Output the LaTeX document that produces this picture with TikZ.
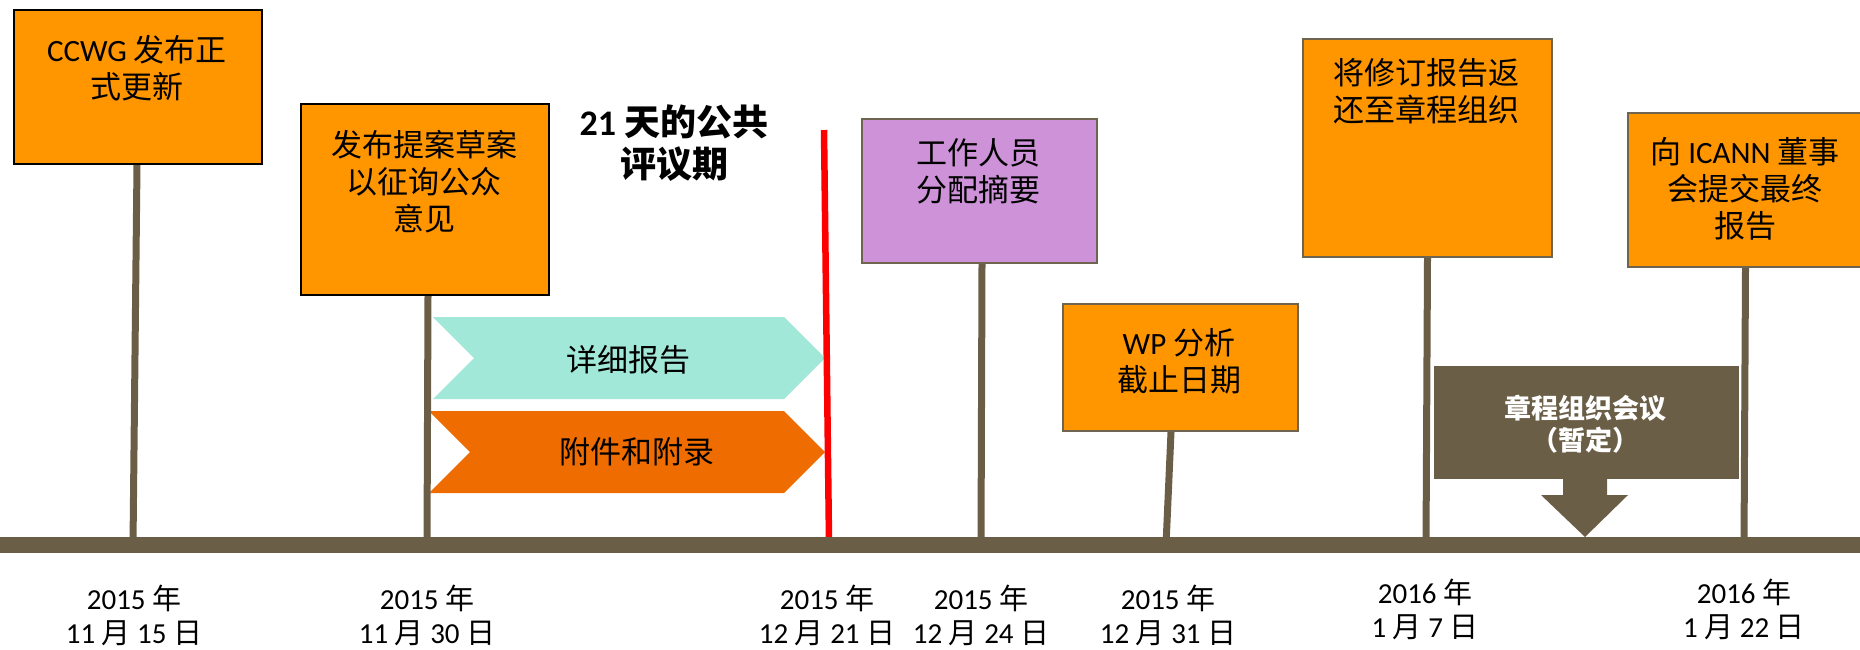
\documentclass[tikz,border=0pt]{standalone}
\usepackage{fontspec}
\setmainfont{Carlito}
\newfontfamily\cjk{Noto Sans CJK SC}
\newcommand\lat[1]{{\rmfamily #1}}
\definecolor{orng}{HTML}{FF9600}
\definecolor{purp}{HTML}{CE92D8}
\definecolor{chevteal}{HTML}{A2E8D8}
\definecolor{dorng}{HTML}{EE6C00}
\definecolor{brn}{HTML}{6B5E47}
\definecolor{edgegray}{HTML}{6E6450}
\begin{document}
\begin{tikzpicture}[x=1pt,y=-1pt,
  box/.style={minimum width=#1, inner sep=0, anchor=north west, line width=2pt},
  boxtext/.style={font=\cjk\fontsize{31}{37}\selectfont, align=center, anchor=north, inner sep=0},
  datetext/.style={font=\cjk\fontsize{29}{34}\selectfont, align=center, anchor=north, inner sep=0},
  chevtext/.style={font=\cjk\fontsize{31}{37}\selectfont, inner sep=0},
  stem/.style={draw=brn, line width=7pt},
]
\useasboundingbox (0,0) rectangle (1860,649);

% boxes
\node[box=248, minimum height=154, fill=orng, draw=black] (b1) at (13,9) {};
\node[box=248, minimum height=191, fill=orng, draw=black] (b2) at (300,103) {};
\node[box=235, minimum height=144, fill=purp, draw=edgegray] (b3) at (861,118) {};
\node[box=235, minimum height=127, fill=orng, draw=edgegray] (b4) at (1062,303) {};
\node[box=249, minimum height=218, fill=orng, draw=edgegray] (b5) at (1302,38) {};
\node[box=236, minimum height=154, fill=orng, draw=edgegray] (b6) at (1627,112) {};
\node[box=305, minimum height=113, fill=brn] (m) at (1433,365) {};

% box texts
\node[boxtext] (t1) at (137,35) {\lat{CCWG} 发布正\\式更新};
\node[boxtext] (t2) at (424,130) {发布提案草案\\以征询公众\\意见};
\node[boxtext] (t3) at (978,138) {工作人员\\分配摘要};
\node[boxtext] (t4) at (1179,328) {\lat{WP} 分析\\截止日期};
\node[boxtext] (t5) at (1426,58) {将修订报告返\\还至章程组织};
\node[boxtext] (t6) at (1745,137) {向 \lat{ICANN} 董事\\会提交最终\\报告};
\node[font=\cjk\bfseries\fontsize{27}{32}\selectfont, text=white, align=center, anchor=north, inner sep=0] (mt) at (1585,395) {章程组织会议\\（暂定）};

% title
\node[font=\cjk\bfseries\fontsize{36}{42}\selectfont, align=center, anchor=north, inner sep=0] (title) at (674,105) {\lat{\bfseries 21} 天的公共\\评议期};

% chevrons
\fill[chevteal] (433,317) -- (784,317) -- (825,358) -- (784,399) -- (433,399) -- (474,358) -- cycle;
\fill[dorng] (429,411) -- (784,411) -- (825,452) -- (784,493) -- (429,493) -- (470,452) -- cycle;
\node[chevtext] (c1) at (628,360) {详细报告};
\node[chevtext] (c2) at (637,452) {附件和附录};

% timeline points
\coordinate (s1) at (133,545);
\coordinate (s2) at (427,545);
\coordinate (s3) at (981,545);
\coordinate (s4) at (1166,545);
\coordinate (s5) at (1426,545);
\coordinate (s6) at (1744,545);
\coordinate (r1) at (824,130);
\coordinate (r2) at (829,541);
\coordinate (tl0) at (0,545);
\coordinate (tl1) at (1860,545);

% stems
\draw[stem] ([xshift=-1pt]b1.south) -- (s1);
\draw[stem] ([xshift=3pt]b2.south) -- (s2);
\draw[stem] ([xshift=2.5pt]b3.south) -- (s3);
\draw[stem] ([xshift=-9.5pt]b4.south) -- (s4);
\draw[stem] (b5.south) -- (s5);
\draw[stem] ([xshift=-0.5pt]b6.south) -- (s6);

% red line
\draw[red, line width=6.5pt] (r1) -- (r2);

% arrow under meeting box
\fill[brn] (1563,477) -- (1607,477) -- (1607,495) -- (1628,495) -- (1585,537) -- (1541,495) -- (1563,495) -- cycle;

% timeline
\draw[brn, line width=16pt] (tl0) -- (tl1);

% dates
\node[datetext] (d1) at (134,585) {\lat{2015} 年\\\lat{11} 月 \lat{15} 日};
\node[datetext] (d2) at (427,585) {\lat{2015} 年\\\lat{11} 月 \lat{30} 日};
\node[datetext] (d3) at (827,585) {\lat{2015} 年\\\lat{12} 月 \lat{21} 日};
\node[datetext] (d4) at (981,585) {\lat{2015} 年\\\lat{12} 月 \lat{24} 日};
\node[datetext] (d5) at (1168,585) {\lat{2015} 年\\\lat{12} 月 \lat{31} 日};
\node[datetext] (d6) at (1425,579) {\lat{2016} 年\\\lat{1} 月 \lat{7} 日};
\node[datetext] (d7) at (1744,579) {\lat{2016} 年\\\lat{1} 月 \lat{22} 日};
\end{tikzpicture}
\end{document}
